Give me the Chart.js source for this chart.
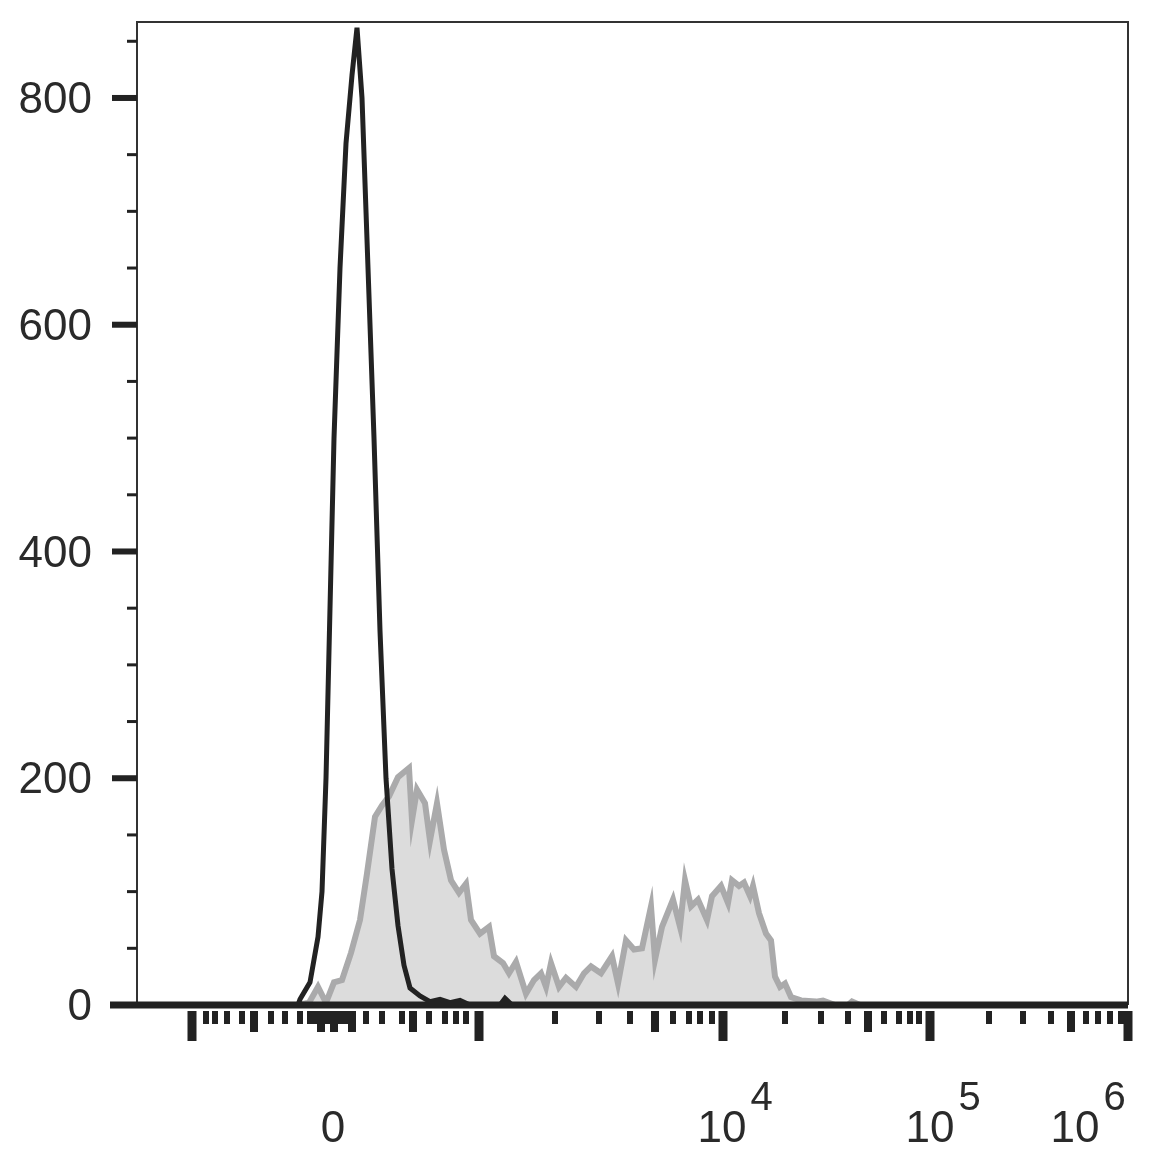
<!DOCTYPE html>
<html><head><meta charset="utf-8">
<script src="https://cdn.jsdelivr.net/npm/chart.js@4"></script>
<style>html,body{margin:0;padding:0;background:#fff}#w{width:1156px;height:1150px}</style>
</head><body><div id="w"><canvas id="c"></canvas></div>
<script>
// x in channel units (display position), y in counts
const controlX = [137,298,300,310,318,322,326,330,334,340,346,352,357,362,368,374,380,386,392,398,404,410,420,430,440,450,460,470,500,505,512,1128];
const controlY = [0,0,5,20,60,100,200,350,500,650,760,820,862,800,650,500,330,200,120,70,35,15,8,3,5,2,4,0,0,6,0,0];
const stainX = [137,298,309,318,326,334,342,351,360,367,375,382,389,398,409,412,417,425,430,437,444,451,459,466,471,480,489,494,503,509,516,526,534,541,546,551,559,566,576,584,591,601,612,618,626,634,642,651,655,662,673,680,685,691,698,707,712,721,728,732,739,744,750,753,759,766,771,775,780,785,791,801,816,823,835,848,852,860,1128];
const stainY = [0,0,2,16,2,20,22,46,75,116,166,176,184,201,209,163,190,178,145,178,137,110,99,107,75,63,69,43,37,28,38,10,22,28,16,37,16,24,16,28,34,28,43,19,57,49,50,87,40,69,93,69,110,87,93,75,96,105,90,110,105,108,96,105,81,63,57,25,16,19,7,4,3,4,0,0,3,0,0];
const yMajor = [0,200,400,600,800];
const yMinor = [50,100,150,250,300,350,450,500,550,650,700,750,850];
const xLong = [192,479,723,930,1128];
const xMid = [254,321,334,352,413,655,868,1071];
const xShort = [206,215,227,242,271,285,300,310,316,328,340,346,366,382,402,429,445,456,466,555,599,630,673,689,700,712,785,821,848,884,899,910,919,989,1023,1051,1086,1098,1110,1121];
const xLabels = [{v:333,b:'0',e:''},{v:722,b:'10',e:'4'},{v:930,b:'10',e:'5'},{v:1075,b:'10',e:'6'}];

const toPts=(xs,ys)=>xs.map((x,i)=>({x,y:ys[i]}));
const F='"Liberation Sans", Arial, sans-serif';
const axes={id:'axes',afterDraw(ch){
  const c=ch.ctx,xs=ch.scales.x,ys=ch.scales.y,a=ch.chartArea;
  c.save();
  c.strokeStyle='#333';c.lineWidth=2;
  c.beginPath();c.moveTo(a.left,a.bottom);c.lineTo(a.left,a.top);c.lineTo(a.right,a.top);c.lineTo(a.right,a.bottom);c.stroke();
  c.fillStyle='#222';
  const y0=ys.getPixelForValue(0);
  c.fillRect(110,y0-3.5,a.right-110,7);
  yMajor.forEach(v=>{const p=ys.getPixelForValue(v);c.fillRect(112,p-3,a.left-112,6);});
  yMinor.forEach(v=>{const p=ys.getPixelForValue(v);c.fillRect(127,p-1.5,a.left-127,3);});
  const tb=y0+6;
  xLong.forEach(v=>{const p=xs.getPixelForValue(v);c.fillRect(p-4.5,tb,9,30);});
  xMid.forEach(v=>{const p=xs.getPixelForValue(v);c.fillRect(p-4,tb,8,21);});
  xShort.forEach(v=>{const p=xs.getPixelForValue(v);c.fillRect(p-3,tb,6,13);});
  c.fillStyle='#2a2a2a';c.font='44px '+F;
  c.textAlign='right';c.textBaseline='middle';
  yMajor.forEach(v=>{c.fillText(String(v),92,ys.getPixelForValue(v)+3);});
  c.textBaseline='alphabetic';
  xLabels.forEach(l=>{const p=xs.getPixelForValue(l.v);
    c.textAlign='center';c.font='44px '+F;const w=c.measureText(l.b).width;c.fillText(l.b,p,1142);
    if(l.e){c.textAlign='left';c.font='40px '+F;c.fillText(l.e,p+w/2+4,1110);}
  });
  c.restore();
}};
new Chart(document.getElementById('c'),{
  type:'line',
  data:{datasets:[
    {data:toPts(stainX,stainY),borderColor:'#aaaaab',backgroundColor:'#dcdcdc',borderWidth:6,fill:'origin',pointRadius:0,tension:0,order:2},
    {data:toPts(controlX,controlY),borderColor:'#222',borderWidth:5,fill:false,pointRadius:0,tension:0,order:1}
  ]},
  options:{responsive:true,maintainAspectRatio:false,animation:false,devicePixelRatio:1,
    layout:{padding:{left:137,right:28,top:22,bottom:145}},
    plugins:{legend:{display:false},tooltip:{enabled:false}},
    scales:{x:{type:'linear',min:137,max:1128,display:false},y:{min:0,max:867,display:false}}},
  plugins:[axes]
});
</script></body></html>
